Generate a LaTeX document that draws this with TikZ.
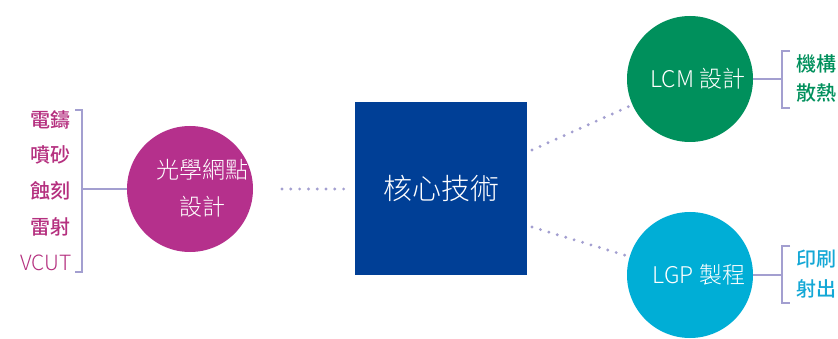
\documentclass[tikz,border=0pt]{standalone}
\usepackage{fontspec}
\setmainfont{Noto Sans CJK TC}
\IfFontExistsTF{Noto Sans CJK TC Light}{\newfontfamily\lightf{Noto Sans CJK TC Light}}{\newfontfamily\lightf{Noto Sans CJK TC}}
\IfFontExistsTF{Noto Sans CJK TC Medium}{\newfontfamily\medf{Noto Sans CJK TC Medium}}{\newfontfamily\medf{Noto Sans CJK TC}[FakeBold=1.5]}
\definecolor{magc}{HTML}{B5308C}
\definecolor{grnc}{HTML}{00905C}
\definecolor{cyanc}{HTML}{00AED6}
\definecolor{bluec}{HTML}{003F96}
\definecolor{lav}{HTML}{A39FD0}
\definecolor{maglbl}{HTML}{B5307F}
\definecolor{grnlbl}{HTML}{00905C}
\definecolor{cyanlbl}{HTML}{14A8D6}
\tikzset{
  bigcirc/.style={circle, minimum size=126pt, inner sep=0pt},
  circtext/.style={text=white, align=center, inner sep=0pt, font=\lightf\fontsize{23}{37}\selectfont},
  dotline/.style={draw=lav, line width=3.2pt, line cap=round, dash pattern=on 0pt off 8.8pt},
  brk/.style={draw=lav, line width=1.4pt},
  lbl/.style={inner sep=0pt, font=\medf\fontsize{20}{24}\selectfont},
}
\begin{document}
\begin{tikzpicture}[x=1pt, y=-1pt]
\useasboundingbox (0,0) rectangle (838,339);
\fill[white] (0,0) rectangle (838,339);
% core square
\node[fill=bluec, minimum width=172pt, minimum height=173pt, inner sep=0pt,
      text=white, font=\lightf\fontsize{29}{34}\selectfont] (core) at (441,188.5) {核心技術};
% circles
\node[bigcirc, fill=magc] (opt) at (190,189) {};
\node[circtext] (opttext) at (202,188.5) {光學網點\\設計};
\node[bigcirc, fill=grnc] (lcm) at (690,79) {};
\node[circtext] (lcmtext) at (698,79) {LCM 設計};
\node[bigcirc, fill=cyanc] (lgp) at (690,275) {};
\node[circtext] (lgptext) at (699,275) {LGP 製程};
% dotted connectors
\coordinate (c1) at (282,189);
\coordinate (c2) at (532,150);
\coordinate (c3) at (532,227);
\draw[dotline] (c1) -- ([xshift=-5pt]core.west |- c1);
\draw[dotline] (c2) -- (lcm);
\draw[dotline] (c3) -- (lgp);
% left bracket
\coordinate (lb1) at (75,110);
\coordinate (lb2) at (82,110);
\coordinate (lb3) at (82,272);
\coordinate (lb4) at (75,272);
\coordinate (lbm) at (82,189);
\draw[brk] (lb1) -- (lb2) -- (lb3) -- (lb4);
\draw[brk] (lbm) -- (opt.west |- lbm);
% right brackets
\coordinate (gb1) at (790,51);
\coordinate (gb2) at (782,51);
\coordinate (gb3) at (782,108);
\coordinate (gb4) at (790,108);
\coordinate (gbm) at (782,79);
\draw[brk] (gb1) -- (gb2) -- (gb3) -- (gb4);
\draw[brk] (lcm.east) -- (gbm);
\coordinate (cb1) at (790,246);
\coordinate (cb2) at (782,246);
\coordinate (cb3) at (782,303);
\coordinate (cb4) at (790,303);
\coordinate (cbm) at (782,275);
\draw[brk] (cb1) -- (cb2) -- (cb3) -- (cb4);
\draw[brk] (lgp.east) -- (cbm);
% left labels
\node[lbl, text=maglbl, anchor=east] (l1) at (71,120) {電鑄};
\node[lbl, text=maglbl, anchor=east] (l2) at (71,155) {噴砂};
\node[lbl, text=maglbl, anchor=east] (l3) at (71,191) {蝕刻};
\node[lbl, text=maglbl, anchor=east] (l4) at (71,227) {雷射};
\node[lbl, text=maglbl, anchor=east, font=\lightf\fontsize{21}{24}\selectfont] (l5) at (72,263) {VCUT};
% right labels
\node[lbl, text=grnlbl, anchor=west] (g1) at (796,64) {機構};
\node[lbl, text=grnlbl, anchor=west] (g2) at (796,93) {散熱};
\node[lbl, text=cyanlbl, anchor=west] (b1) at (796,259) {印刷};
\node[lbl, text=cyanlbl, anchor=west] (b2) at (796,289) {射出};
\end{tikzpicture}
\end{document}
